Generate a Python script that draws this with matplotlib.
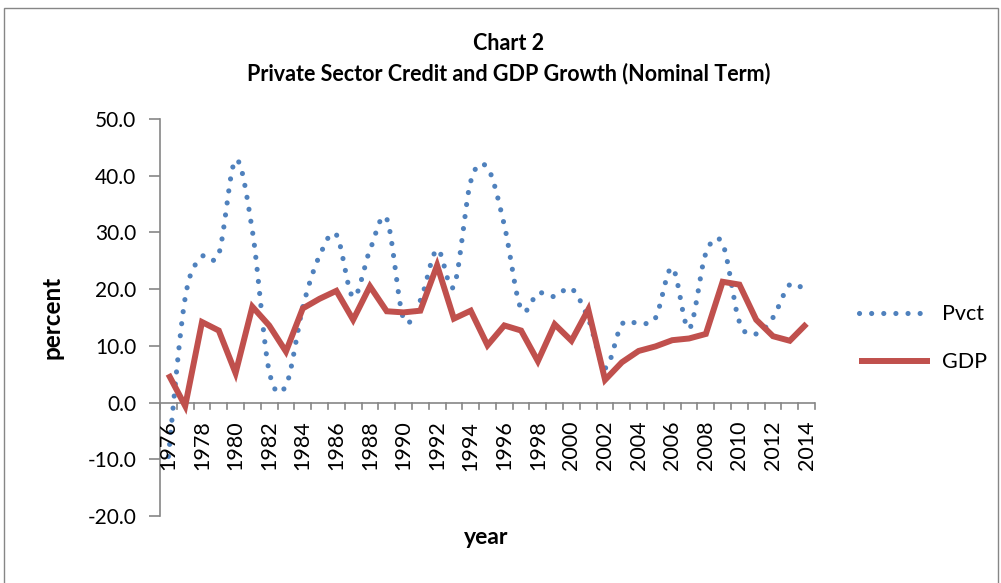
import numpy as np
import matplotlib
matplotlib.use("Agg")
import matplotlib.pyplot as plt
from matplotlib.patches import Rectangle

# ---- data -------------------------------------------------------------
years = list(range(1976, 2015))
pvct = [-9.5, 18.5, 25.7, 26.2, 42.8, 30.3, 5.5, 3.0, 16.8, 25.9,
        29.6, 18.6, 26.9, 32.4, 14.8, 18.0, 27.0, 20.5, 39.0, 41.4,
        31.3, 16.5, 19.3, 18.7, 20.1, 14.8, 6.1, 13.8, 14.0, 14.9,
        23.8, 13.0, 26.3, 28.0, 14.2, 12.1, 15.0, 20.8, 19.6]
gdp = [5.0, -0.6, 14.2, 12.7, 5.2, 16.9, 13.6, 9.0, 16.6, 18.3,
       19.7, 14.6, 20.5, 16.1, 15.9, 16.2, 24.2, 14.8, 16.2, 10.1,
       13.6, 12.7, 7.3, 13.8, 10.9, 16.4, 4.0, 7.1, 9.1, 9.9,
       11.0, 11.3, 12.1, 21.3, 20.8, 14.6, 11.7, 10.9, 13.9]
y_ticks = [-20, -10, 0, 10, 20, 30, 40, 50]

BLUE = "#4F81BD"
RED = "#C0504D"
AXIS = "#868686"
FONT = "Lato"


def smooth(xs, ys, n=24):
    """Catmull-Rom style Bezier smoothing through every point."""
    xs = np.asarray(xs, float)
    ys = np.asarray(ys, float)
    px = np.concatenate([[xs[0]], xs, [xs[-1]]])
    py = np.concatenate([[ys[0]], ys, [ys[-1]]])
    out_x, out_y = [], []
    t = np.linspace(0, 1, n, endpoint=False)
    for i in range(1, len(px) - 2):
        p0x, p1x, p2x, p3x = px[i - 1], px[i], px[i + 1], px[i + 2]
        p0y, p1y, p2y, p3y = py[i - 1], py[i], py[i + 1], py[i + 2]
        c1x, c1y = p1x + (p2x - p0x) / 6, p1y + (p2y - p0y) / 6
        c2x, c2y = p2x - (p3x - p1x) / 6, p2y - (p3y - p1y) / 6
        bx = ((1 - t) ** 3 * p1x + 3 * (1 - t) ** 2 * t * c1x
              + 3 * (1 - t) * t ** 2 * c2x + t ** 3 * p2x)
        by = ((1 - t) ** 3 * p1y + 3 * (1 - t) ** 2 * t * c1y
              + 3 * (1 - t) * t ** 2 * c2y + t ** 3 * p2y)
        out_x.extend(bx)
        out_y.extend(by)
    out_x.append(xs[-1])
    out_y.append(ys[-1])
    return np.array(out_x), np.array(out_y)


W, H = 1001, 583
fig = plt.figure(figsize=(W / 100, H / 100), dpi=100)
fig.patch.set_facecolor("white")

# outer chart frame
fig.patches.append(Rectangle((4 / W, -0.02), 994 / W, (583 - 8) / H + 0.02,
                             transform=fig.transFigure, fill=False,
                             edgecolor=AXIS, linewidth=1.0))

ax = fig.add_axes([160 / W, (H - 516) / H, 655 / W, 397 / H])

idx = np.arange(len(years))
sx, sy = smooth(idx, pvct)
ax.plot(sx, sy, color=BLUE, linewidth=3.7, linestyle=(0, (0.01, 2.35)),
        dash_capstyle="round", label="Pvct", zorder=3)
ax.plot(idx, gdp, color=RED, linewidth=4.3, solid_joinstyle="miter",
        solid_capstyle="butt", label="GDP", zorder=4)

ax.set_xlim(-0.5, len(years) - 0.5)
ax.set_ylim(-20, 50)

# spines: left axis and the category axis crossing at zero
for side in ("top", "right", "bottom"):
    ax.spines[side].set_visible(False)
ax.spines["left"].set_color(AXIS)
ax.spines["left"].set_linewidth(1.2)
ax.axhline(0, color=AXIS, linewidth=1.2, zorder=2)

ax.set_yticks(y_ticks)
ax.set_yticklabels([f"{v:.1f}" for v in y_ticks], fontsize=15, family=FONT)
ax.tick_params(axis="y", direction="out", length=8, width=1.2,
               color=AXIS, pad=9)

# category axis: ticks between categories, labels every second year
ax.set_xticks([])
for xb in np.arange(-0.5, len(years), 1.0):
    ax.plot([xb, xb], [0, -1.2], color=AXIS, linewidth=1.2,
            clip_on=False, zorder=2)
for i, yr in enumerate(years):
    if i % 2 == 0:
        ax.text(i, -3.2, str(yr), rotation=90, ha="center", va="top",
                fontsize=15.5, family=FONT, color="black")

ax.set_ylabel("percent", fontsize=17.5, fontweight="bold", family=FONT,
              labelpad=17)
fig.text(486 / W, 1 - 538 / H, "year", ha="center", va="center",
         fontsize=16.5, fontweight="bold", family=FONT)

fig.text(509 / W, 1 - 44 / H, "Chart 2", ha="center", va="center",
         fontsize=15.5, fontweight="bold", family=FONT)
fig.text(509 / W, 1 - 74 / H,
         "Private Sector Credit and GDP Growth (Nominal Term)",
         ha="center", va="center", fontsize=15.5, fontweight="bold",
         family=FONT)

leg = fig.legend(loc="upper left", bbox_to_anchor=(840 / W, 1 - 285 / H),
                 frameon=False, prop={"family": FONT, "size": 15.5},
                 handlelength=3.3, handletextpad=0.55, labelspacing=1.3)

fig.savefig("out.png", dpi=100)
